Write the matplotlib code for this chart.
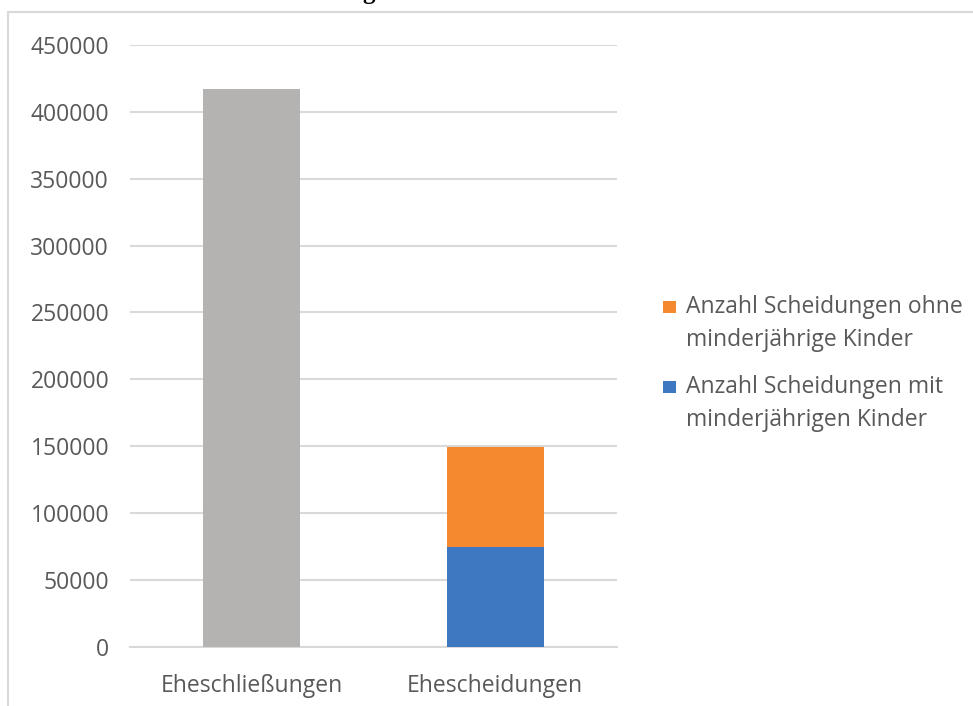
import matplotlib
matplotlib.use("Agg")
from matplotlib import pyplot as plt
from matplotlib.patches import Rectangle
import numpy as np

plt.rcParams['font.family'] = ['Open Sans', 'DejaVu Sans']

categories = ['Eheschließungen', 'Ehescheidungen']
ehe = [417000, 0]                 # Eheschließungen (grau)
mit_kinder = [0, 74800]           # Scheidungen mit minderjährigen Kindern
ohne_kinder = [0, 74500]          # Scheidungen ohne minderjährige Kinder
yticks = [0, 50000, 100000, 150000, 200000, 250000, 300000, 350000, 400000, 450000]
legend_labels = [['Anzahl Scheidungen ohne', 'minderjährige Kinder'],
                 ['Anzahl Scheidungen mit', 'minderjährigen Kinder']]

grau = '#b4b3b1'
orange = '#f5892f'
blau = '#3e78c0'
textcol = '#595959'
linecol = '#d9d9d9'

W, H = 973, 706
fig = plt.figure(figsize=(W / 100, H / 100), dpi=100)

# Rahmen des Diagrammbereichs (oben/links sichtbar)
fig.patches.append(Rectangle((8 / W, -0.1), 1.2, 1 - 12 / H + 0.1,
                             transform=fig.transFigure, fill=False,
                             edgecolor=linecol, linewidth=1.5))
# abgeschnittener Titel (nur Unterlänge sichtbar)
fig.text(369 / W, 1 + 1 / H, 'g', fontsize=18, fontweight='bold',
         family='Liberation Serif', ha='center', va='baseline', color='black')

ax = fig.add_axes([130 / W, 1 - 646.7 / H, 487 / W, (646.7 - 45) / H])
x = np.arange(len(categories))
w = 0.40
ax.bar(x[:1], ehe[:1], width=w, color=grau, zorder=3)
ax.bar(x[1:], mit_kinder[1:], width=w, color=blau, zorder=3)
ax.bar(x[1:], ohne_kinder[1:], width=w, bottom=mit_kinder[1:], color=orange, zorder=3)

ax.set_xlim(-0.5, 1.5)
ax.set_ylim(0, 450000)
ax.set_yticks(yticks)
ax.set_yticklabels([str(v) for v in yticks])
ax.set_xticks(x)
ax.set_xticklabels(categories)
ax.grid(axis='y', color=linecol, linewidth=1.5, zorder=0)
for s in ['top', 'right', 'left']:
    ax.spines[s].set_visible(False)
ax.spines['bottom'].set_color(linecol)
ax.spines['bottom'].set_linewidth(1.5)
ax.tick_params(axis='both', length=0, labelsize=16.5, labelcolor=textcol)
ax.tick_params(axis='y', pad=15)
ax.tick_params(axis='x', pad=20)

# Legende (Quadrat auf Höhe der ersten Zeile)
legend_colors = [orange, blau]
for i, (lines, col) in enumerate(zip(legend_labels, legend_colors)):
    y0 = 313 + i * 80
    fig.patches.append(Rectangle((663 / W, 1 - y0 / H), 13 / W, 12.5 / H,
                                 transform=fig.transFigure, facecolor=col,
                                 edgecolor='none'))
    for j, line in enumerate(lines):
        fig.text(686 / W, 1 - (y0 + j * 33) / H, line, fontsize=16.5,
                 color=textcol, ha='left', va='baseline')

fig.savefig('out.png', dpi=100)
